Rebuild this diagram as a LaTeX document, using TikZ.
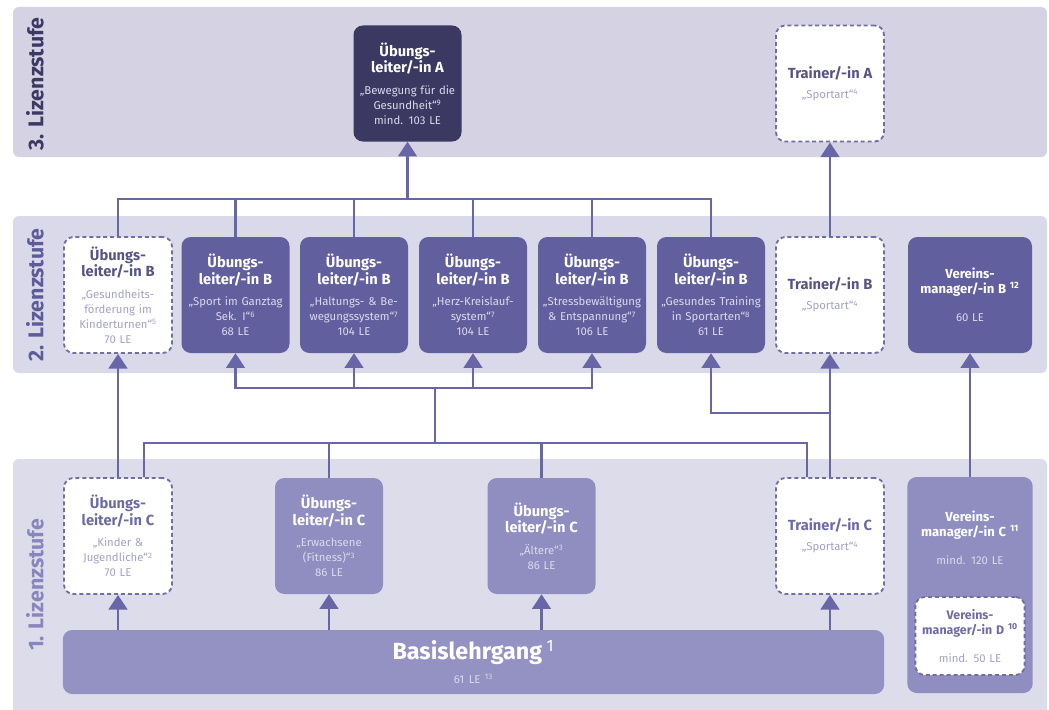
\documentclass[tikz,border=0pt]{standalone}
\usepackage{fontspec}
\setmainfont{Fira Sans}
\usetikzlibrary{arrows.meta,calc}

\definecolor{bgdrei}{HTML}{D5D2E3}
\definecolor{bgzwei}{HTML}{DAD9E9}
\definecolor{bgeins}{HTML}{DCDCEB}
\definecolor{ulacol}{HTML}{3B3862}
\definecolor{bzwei}{HTML}{625F9F}
\definecolor{beins}{HTML}{908EC1}
\definecolor{basisc}{HTML}{9492C3}
\definecolor{lcol}{HTML}{6866A6}
\definecolor{dline}{HTML}{716EA5}
\definecolor{dtitle}{HTML}{575486}
\definecolor{dtitlee}{HTML}{6D6AA5}
\definecolor{subd}{HTML}{A3A1C6}
\definecolor{subw}{HTML}{DAD9EC}
\definecolor{ldrei}{HTML}{3C3964}
\definecolor{lzwei}{HTML}{5E5B9B}
\definecolor{leins}{HTML}{8886BC}

\newcommand{\ttl}[1]{{\fontsize{11}{10.75}\selectfont\bfseries #1}}
\newcommand{\vtl}[1]{{\fontsize{9.8}{10.75}\selectfont\bfseries #1}}
\newcommand{\sbt}[2][subw]{{\fontsize{8.5}{11.25}\selectfont\color{#1}#2}}

\begin{document}
\hyphenpenalty=10000 \exhyphenpenalty=10000
\begin{tikzpicture}[x=0.75pt,y=-0.75pt,
  band/.style={fill=#1, rounded corners=4.5pt},
  fbox/.style={fill=#1, rounded corners=7pt, text=white, minimum width=81pt,
    minimum height=87pt, align=center, text width=79pt, inner sep=1pt,
    font=\fontsize{8.5}{11.25}\selectfont},
  dbox/.style={fill=white, draw=dline, dash pattern=on 3pt off 2.2pt, line width=1.4pt,
    rounded corners=7pt, text=dtitle, minimum width=81pt, minimum height=87pt,
    align=center, text width=79pt, inner sep=1pt, font=\fontsize{8.5}{11.25}\selectfont},
  lvl/.style={rotate=90, font=\fontsize{16}{18}\selectfont\bfseries, text=#1},
  conn/.style={draw=lcol, line width=2pt},
  arr/.style={conn, -{Triangle[width=14pt,length=11pt]}}]
\useasboundingbox (0,0) rectangle (1049,710);
\clip (0,0) rectangle (1049,710);

% Stufen
\fill[band=bgdrei] (13,7) rectangle (1047,157);
\fill[band=bgzwei] (13,216) rectangle (1047,373);
\fill[band=bgeins] (13,459) rectangle (1047,725);
\node[lvl=ldrei] (lz3) at (35,84) {3. Lizenzstufe};
\node[lvl=lzwei] (lz2) at (35,295) {2. Lizenzstufe};
\node[lvl=leins] (lz1) at (35,585) {1. Lizenzstufe};

% 3. Lizenzstufe
\node[fbox=ulacol] (ula) at (407.5,83.5) {\ttl{Übungs-\\leiter/-in A}\\[5pt]\sbt{„Bewegung für die\\Gesundheit“\textsuperscript{9}\\mind. 103 LE}};
\node[dbox] (tra) at (830,83.5) {\ttl{Trainer/-in A}\\[4pt]\sbt[subd]{„Sportart“\textsuperscript{4}}};

% 2. Lizenzstufe
\node[dbox] (ulbg) at (118,295) {\ttl{Übungs-\\leiter/-in B}\\[5pt]\sbt[subd]{„Gesundheits-\\förderung im\\Kinderturnen“\textsuperscript{5}\\70 LE}};
\foreach \n/\x/\t in {ulb1/235.5/{„Sport im Ganztag\\Sek. I“\textsuperscript{6}\\68 LE},
  ulb2/354/{„Haltungs- \& Be-\\wegungssystem“\textsuperscript{7}\\104 LE},
  ulb3/473/{„Herz-Kreislauf-\\system“\textsuperscript{7}\\104 LE},
  ulb4/592/{„Stressbewältigung\\\& Entspannung“\textsuperscript{7}\\106 LE},
  ulb5/711/{„Gesundes Training\\in Sportarten“\textsuperscript{8}\\61 LE}}{
\node[fbox=bzwei] (\n) at (\x,295) {\ttl{Übungs-\\leiter/-in B}\\[5pt]\sbt{\t}};
}
\node[dbox] (trb) at (830,295) {\ttl{Trainer/-in B}\\[4pt]\sbt[subd]{„Sportart“\textsuperscript{4}}};
\node[fbox=bzwei, minimum width=93pt, text width=91pt] (vmb) at (970,295) {\vtl{Vereins-\\manager/-in B \textsuperscript{12}}\\[10pt]\sbt{60 LE}};

% 1. Lizenzstufe
\node[dbox, text=dtitlee] (ulck) at (118,536) {\ttl{Übungs-\\leiter/-in C}\\[5pt]\sbt[subd]{„Kinder \&\\Jugendliche“\textsuperscript{2}\\70 LE}};
\node[fbox=beins] (ulce) at (329,536) {\ttl{Übungs-\\leiter/-in C}\\[5pt]\sbt{„Erwachsene\\(Fitness)“\textsuperscript{3}\\86 LE}};
\node[fbox=beins] (ulca) at (541.5,536) {\ttl{Übungs-\\leiter/-in C}\\[5pt]\sbt{„Ältere“\textsuperscript{3}\\86 LE}};
\node[dbox, text=dtitlee] (trc) at (830,536) {\ttl{Trainer/-in C}\\[4pt]\sbt[subd]{„Sportart“\textsuperscript{4}}};
\node[fill=beins, rounded corners=7pt, minimum width=94pt, minimum height=162pt] (vmc) at (970,585) {};
\node[text=white, align=center, text width=92pt, font=\fontsize{8.5}{11.25}\selectfont] (vmctxt) at (970,538) {\vtl{Vereins-\\manager/-in C \textsuperscript{11}}\\[10pt]\sbt{mind. 120 LE}};
\node[dbox, text=dtitlee, minimum width=82pt, text width=80pt, minimum height=58.5pt] (vmd) at (970,636) {{\fontsize{9.3}{10.75}\selectfont\bfseries Vereins-\\manager/-in D \textsuperscript{10}}\\[10pt]\sbt[subd]{mind. 50 LE}};
\node[fill=basisc, rounded corners=7pt, minimum width=616pt, minimum height=48pt, text=white, align=center, text width=600pt, inner sep=1pt] (basis) at (473.5,662) {{\fontsize{17.5}{19}\selectfont\bfseries Basislehrgang \textsuperscript{\mdseries 1}}\\[6pt]\sbt{61 LE \textsuperscript{13}}};

% Verbindungen
\coordinate (obus) at (407.5,199);
\coordinate (ubus) at (435,443);
\coordinate (mbus) at (435,388);
\coordinate (tgabel) at (830,413);
\draw[conn] (ulbg.north) |- (obus) -| (ulb5.north);
\foreach \n in {ulb1,ulb2,ulb3,ulb4}
  \draw[conn] (\n.north) -- (\n.north |- obus);
\draw[arr] (obus) -- (ula.south);
\draw[arr] (trb.north) -- (tra.south);
\draw[arr] (ulck.north) -- (ulbg.south);
\draw[conn] ($(ulck.north)+(26,0)$) |- (ubus) -| ($(trc.north)+(-23,0)$);
\foreach \n in {ulce,ulca}
  \draw[conn] (\n.north) -- (\n.north |- ubus);
\draw[conn] (ubus) -- (mbus);
\draw[arr] (mbus) -| (ulb1.south);
\draw[arr] (mbus) -| (ulb4.south);
\foreach \n in {ulb2,ulb3}
  \draw[arr] (\n.south |- mbus) -- (\n.south);
\draw[arr] (trc.north) -- (trb.south);
\draw[arr] (tgabel) -| (ulb5.south);
\draw[arr] (vmc.north) -- (vmb.south);
\foreach \n in {ulck,ulce,ulca,trc}
  \draw[arr] (basis.north -| \n.south) -- (\n.south);
\end{tikzpicture}
\end{document}
